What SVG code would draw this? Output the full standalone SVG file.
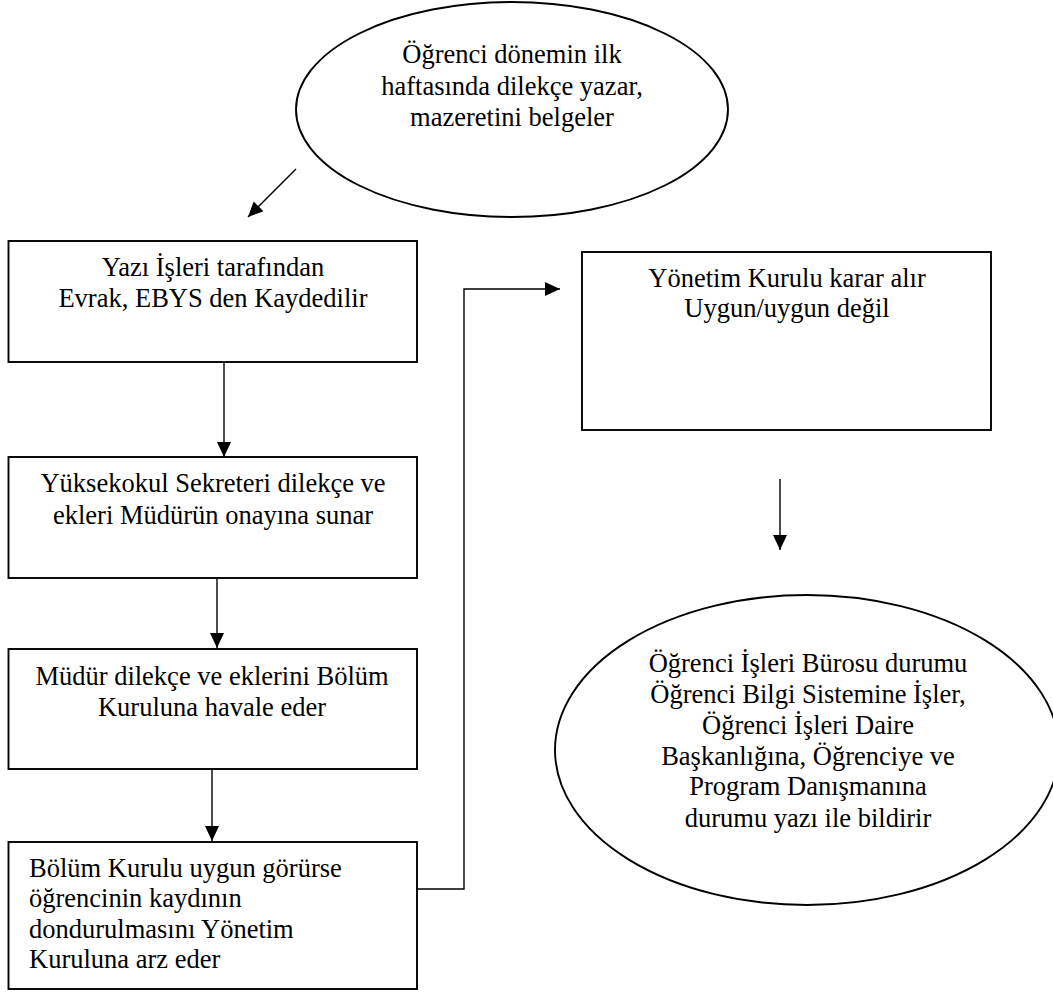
<svg xmlns="http://www.w3.org/2000/svg" width="1053" height="992" viewBox="0 0 1053 992">
<style>
.shape{fill:#fff;stroke:#000;stroke-width:1.9}
.t{font-family:"Liberation Serif","Times New Roman",Times,"DejaVu Serif",serif;font-size:26.5px;fill:#000}
.c{text-anchor:middle}
.conn{fill:none;stroke:#000;stroke-width:1.4}
</style>
<defs>
<marker id="arr" markerUnits="userSpaceOnUse" markerWidth="16" markerHeight="16" refX="15" refY="7" orient="auto">
<path d="M0,0 L15,7 L0,14 z" fill="#000"/>
</marker>
</defs>
<rect width="1053" height="992" fill="#fff"/>
<g id="n1">
<ellipse class="shape" cx="512" cy="109.5" rx="216" ry="107.5"/>
<text class="t c" x="512" y="63">Öğrenci dönemin ilk</text>
<text class="t c" x="512" y="95">haftasında dilekçe yazar,</text>
<text class="t c" x="512" y="126">mazeretini belgeler</text>
</g>
<g id="n2">
<rect class="shape" x="8.5" y="241" width="408.5" height="121"/>
<text class="t c" x="213" y="276">Yazı İşleri tarafından</text>
<text class="t c" x="213" y="307">Evrak, EBYS den Kaydedilir</text>
</g>
<g id="n3">
<rect class="shape" x="8.5" y="457" width="408.5" height="121"/>
<text class="t c" x="213" y="492">Yüksekokul Sekreteri dilekçe ve</text>
<text class="t c" x="213" y="524">ekleri Müdürün onayına sunar</text>
</g>
<g id="n4">
<rect class="shape" x="8.5" y="649" width="408.5" height="120"/>
<text class="t c" x="212" y="685">Müdür dilekçe ve eklerini Bölüm</text>
<text class="t c" x="212" y="716">Kuruluna havale eder</text>
</g>
<g id="n5">
<rect class="shape" x="8.5" y="842" width="408.5" height="147"/>
<text class="t" x="29" y="877">Bölüm Kurulu uygun görürse</text>
<text class="t" x="29" y="907">öğrencinin kaydının</text>
<text class="t" x="29" y="938">dondurulmasını Yönetim</text>
<text class="t" x="29" y="968">Kuruluna arz eder</text>
</g>
<g id="n6">
<rect class="shape" x="582" y="252" width="409" height="178"/>
<text class="t c" x="787" y="287">Yönetim Kurulu karar alır</text>
<text class="t c" x="787" y="317">Uygun/uygun değil</text>
</g>
<g id="n7">
<ellipse class="shape" cx="807" cy="750" rx="252" ry="155"/>
<text class="t c" x="808" y="672">Öğrenci İşleri Bürosu durumu</text>
<text class="t c" x="808" y="703">Öğrenci Bilgi Sistemine İşler,</text>
<text class="t c" x="808" y="734">Öğrenci İşleri Daire</text>
<text class="t c" x="808" y="765">Başkanlığına, Öğrenciye ve</text>
<text class="t c" x="808" y="795">Program Danışmanına</text>
<text class="t c" x="808" y="827">durumu yazı ile bildirir</text>
</g>
<g id="connectors">
<line class="conn" x1="296" y1="169" x2="248" y2="217" marker-end="url(#arr)"/>
<line class="conn" x1="224" y1="362" x2="224" y2="457" marker-end="url(#arr)"/>
<line class="conn" x1="217" y1="578" x2="217" y2="648" marker-end="url(#arr)"/>
<line class="conn" x1="212" y1="769" x2="212" y2="841" marker-end="url(#arr)"/>
<polyline class="conn" points="417,889 464,889 464,289 560,289" marker-end="url(#arr)"/>
<line class="conn" x1="780" y1="479" x2="780" y2="550" marker-end="url(#arr)"/>
</g>
</svg>
